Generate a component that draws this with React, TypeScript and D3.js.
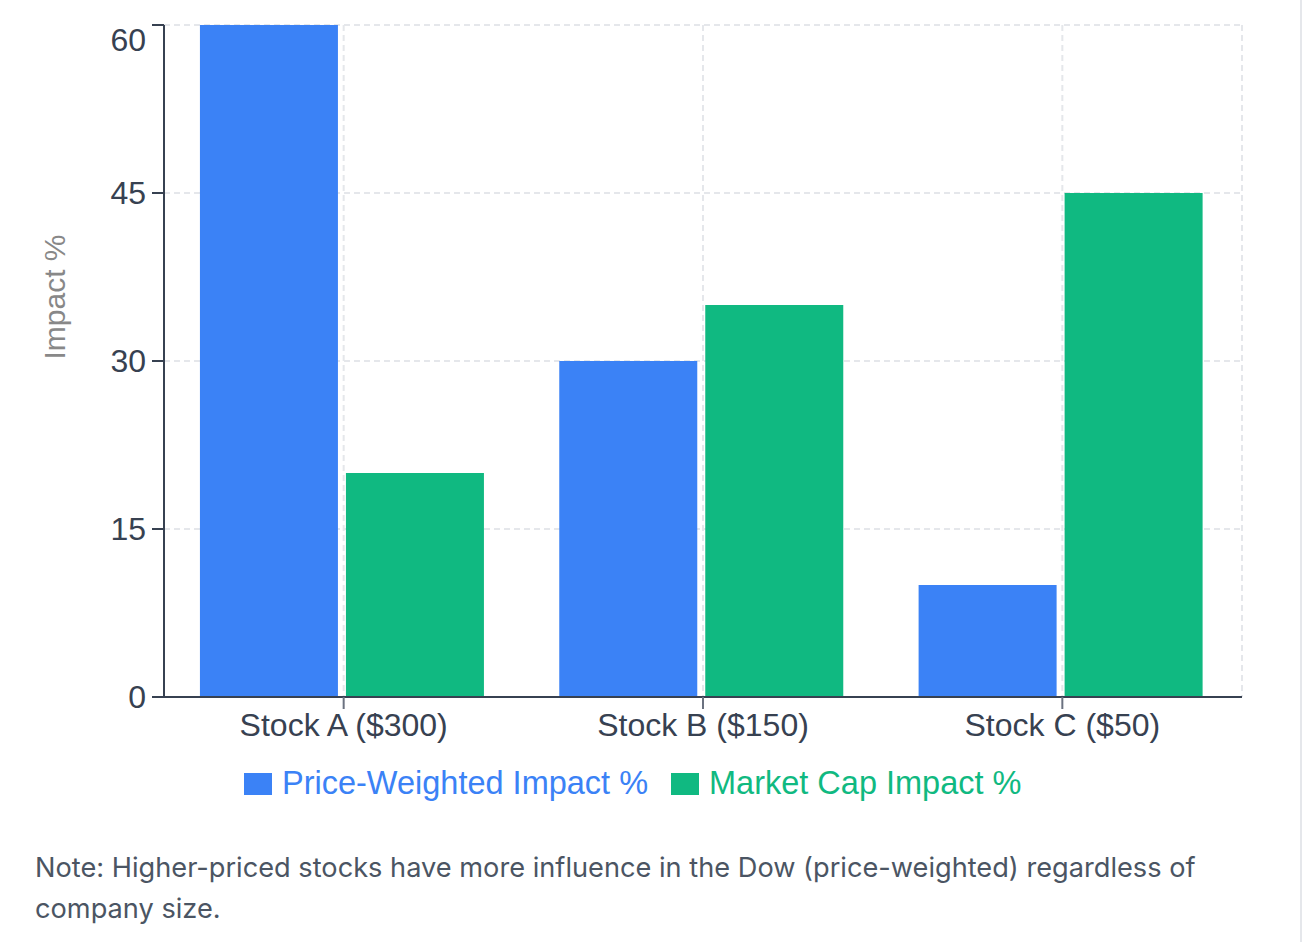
import React, { useEffect, useRef } from "react";
import * as d3 from "d3";

const categories = ["Stock A ($300)", "Stock B ($150)", "Stock C ($50)"];
const seriesNames = ["Price-Weighted Impact %", "Market Cap Impact %"];
const seriesColors = ["#3b82f6", "#10b981"];
const priceWeighted = [60, 30, 10];
const marketCap = [20, 35, 45];
const yTicks = [0, 15, 30, 45, 60];
const yLabel = "Impact %";
const noteLines = [
  "Note: Higher-priced stocks have more influence in the Dow (price-weighted) regardless of",
  "company size.",
];

const W = 1302;
const H = 942;
const margin = { top: 25, right: 60, bottom: 245, left: 164 };
const font = "'Liberation Sans', Arial, sans-serif";
const noteFont = "Inter, 'Liberation Sans', sans-serif";

export default function App() {
  const ref = useRef<SVGSVGElement>(null);

  useEffect(() => {
    const svg = d3.select(ref.current);
    svg.selectAll("*").remove();

    const x0 = margin.left;
    const x1 = W - margin.right;
    const yBottom = H - margin.bottom;

    const x = d3.scaleBand().domain(categories).range([x0, x1]).padding(0);
    const y = d3.scaleLinear().domain([0, 60]).range([yBottom, margin.top]);
    const bw = x.bandwidth();
    const barW = 138;
    const gap = 8;

    // right container edge
    svg
      .append("rect")
      .attr("x", W - 2)
      .attr("y", 0)
      .attr("width", 2)
      .attr("height", H)
      .attr("fill", "#e5e7eb");

    // grid
    const grid = svg
      .append("g")
      .attr("stroke", "#e5e7eb")
      .attr("stroke-width", 2)
      .attr("stroke-dasharray", "6 4");
    yTicks
      .filter((t) => t !== 0)
      .forEach((t) => {
        grid.append("line").attr("x1", x0).attr("x2", x1).attr("y1", y(t)).attr("y2", y(t));
      });
    categories.forEach((c) => {
      const cx = (x(c) as number) + bw / 2;
      grid.append("line").attr("x1", cx).attr("x2", cx).attr("y1", margin.top).attr("y2", yBottom);
    });
    grid.append("line").attr("x1", x1).attr("x2", x1).attr("y1", margin.top).attr("y2", yBottom);

    // bars
    const values = [priceWeighted, marketCap];
    values.forEach((vals, si) => {
      svg
        .append("g")
        .attr("fill", seriesColors[si])
        .selectAll("rect")
        .data(vals)
        .join("rect")
        .attr("x", (d, i) => (x(categories[i]) as number) + bw * 0.1 + si * (barW + gap))
        .attr("y", (d) => y(d))
        .attr("width", barW)
        .attr("height", (d) => y(0) - y(d));
    });

    // y axis
    const axisColor = "#374151";
    svg
      .append("line")
      .attr("x1", x0)
      .attr("x2", x0)
      .attr("y1", margin.top)
      .attr("y2", yBottom)
      .attr("stroke", axisColor)
      .attr("stroke-width", 2);
    yTicks.forEach((t) => {
      svg
        .append("line")
        .attr("x1", x0 - 12)
        .attr("x2", x0)
        .attr("y1", y(t))
        .attr("y2", y(t))
        .attr("stroke", axisColor)
        .attr("stroke-width", 2);
      svg
        .append("text")
        .attr("x", x0 - 18)
        .attr("y", y(t) + (t === 60 ? 26 : 11))
        .attr("text-anchor", "end")
        .attr("fill", axisColor)
        .attr("font-family", font)
        .attr("font-size", 32)
        .text(t);
    });

    svg
      .append("text")
      .attr("transform", `translate(65, ${(margin.top + yBottom) / 2 - 64}) rotate(-90)`)
      .attr("text-anchor", "middle")
      .attr("fill", "#888")
      .attr("font-family", font)
      .attr("font-size", 30)
      .text(yLabel);

    // x axis
    svg
      .append("line")
      .attr("x1", x0)
      .attr("x2", x1)
      .attr("y1", yBottom)
      .attr("y2", yBottom)
      .attr("stroke", axisColor)
      .attr("stroke-width", 2);
    categories.forEach((c) => {
      const cx = (x(c) as number) + bw / 2;
      svg
        .append("line")
        .attr("x1", cx)
        .attr("x2", cx)
        .attr("y1", yBottom)
        .attr("y2", yBottom + 12)
        .attr("stroke", "#6b7280")
        .attr("stroke-width", 2);
      svg
        .append("text")
        .attr("x", cx)
        .attr("y", 736)
        .attr("text-anchor", "middle")
        .attr("fill", axisColor)
        .attr("font-family", font)
        .attr("font-size", 32)
        .text(c);
    });

    // legend
    const legendX = [244, 671];
    seriesNames.forEach((name, i) => {
      const g = svg.append("g").attr("transform", `translate(${legendX[i]}, 773)`);
      g.append("rect").attr("width", 28).attr("height", 22).attr("fill", seriesColors[i]);
      g.append("text")
        .attr("x", 38)
        .attr("y", 21)
        .attr("fill", seriesColors[i])
        .attr("font-family", font)
        .attr("font-size", 32.5)
        .text(name);
    });

    // note
    noteLines.forEach((line, i) => {
      svg
        .append("text")
        .attr("x", 35)
        .attr("y", 877 + i * 41)
        .attr("fill", "#4b5563")
        .attr("font-family", noteFont)
        .attr("font-size", 27.2)
        .text(line);
    });
  }, []);

  return (
    <svg
      ref={ref}
      width={W}
      height={H}
      style={{ position: "absolute", left: 0, top: 0, background: "#fff" }}
    />
  );
}
